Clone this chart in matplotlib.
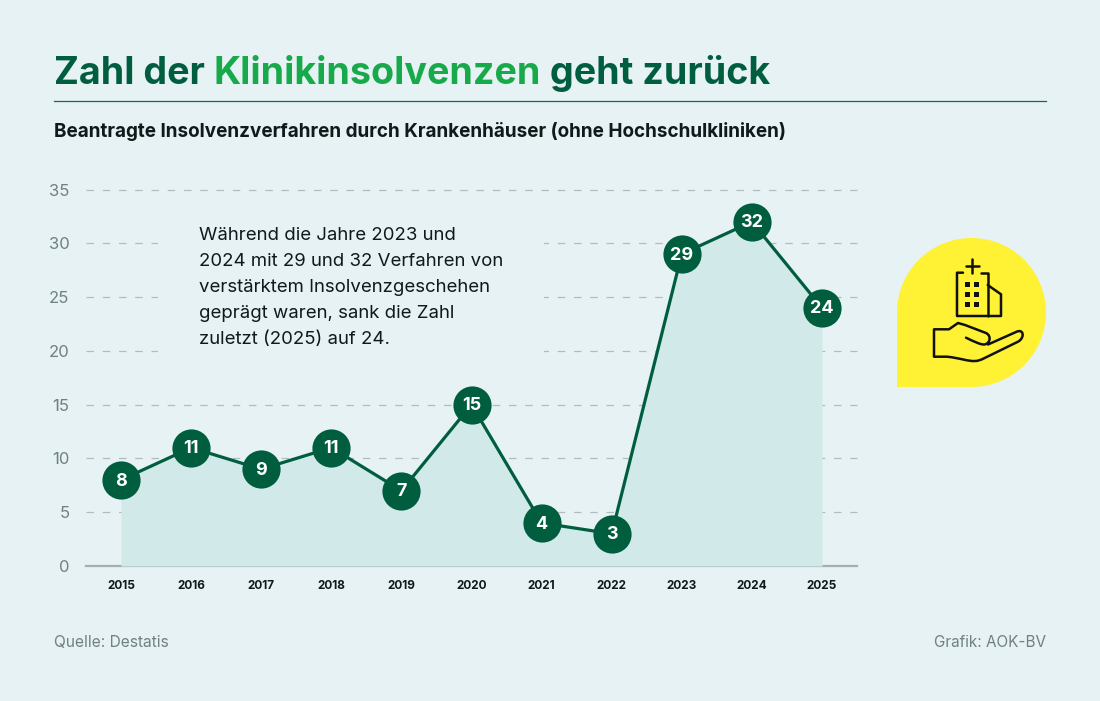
import matplotlib
matplotlib.use("Agg")
import matplotlib.pyplot as plt
from matplotlib.patches import Circle, Rectangle, PathPatch
from matplotlib.path import Path

years = [2015, 2016, 2017, 2018, 2019, 2020, 2021, 2022, 2023, 2024, 2025]
cases = [8, 11, 9, 11, 7, 15, 4, 3, 29, 32, 24]
y_ticks = [0, 5, 10, 15, 20, 25, 30, 35]

title_parts = [("Zahl der ", "#005E3F"), ("Klinikinsolvenzen", "#18A94A"), (" geht zurück", "#005E3F")]
subtitle = "Beantragte Insolvenzverfahren durch Krankenhäuser (ohne Hochschulkliniken)"
note_lines = [
    "Während die Jahre 2023 und",
    "2024 mit 29 und 32 Verfahren von",
    "verstärktem Insolvenzgeschehen",
    "geprägt waren, sank die Zahl",
    "zuletzt (2025) auf 24.",
]

BG = "#E6F2F3"
AREA = "#D2E9EA"
DARK = "#005E3F"
YELLOW = "#FFF133"
GREY = "#6F8183"
INK = "#111A1A"
W, H = 1100, 701

plt.rcParams["font.family"] = ["Inter", "DejaVu Sans"]
fig = plt.figure(figsize=(W / 100, H / 100), dpi=100, facecolor=BG)

# chart area, placed in pixels
ax = fig.add_axes([86 / W, 1 - 566 / H, (857 - 86) / W, (566 - 189.5) / H])
ax.set_facecolor("none")
ax.set_xlim(2014.5, 2025.5)
ax.set_ylim(0, 35)
for s in ax.spines.values():
    s.set_visible(False)
ax.set_yticks(y_ticks)
ax.set_xticks(years)
ax.tick_params(length=0)
ax.tick_params(axis="y", pad=12, labelsize=12, labelcolor=GREY)
ax.tick_params(axis="x", pad=10, labelsize=8.5, labelcolor=INK)
for lab in ax.get_xticklabels():
    lab.set_fontweight("bold")

for t in y_ticks[1:]:
    ax.plot([2014.5, 2025.5], [t, t], color="#B0BDBD", lw=0.9, dashes=(6, 7), zorder=1, clip_on=False)
ax.plot([2014.5, 2025.5], [0, 0], color="#A2B0B0", lw=1.6, zorder=1, clip_on=False)

# gap in the grid behind the note
ax.add_patch(Rectangle((2015.53, 19.2), 5.5, 12.5, facecolor=BG, edgecolor="none", zorder=2))
ax.fill_between(years, cases, 0, color=AREA, lw=0, zorder=3)
ax.plot(years, cases, color=DARK, lw=2.3, zorder=4, solid_joinstyle="round")
ax.plot(years, cases, "o", ms=27.5, mfc=DARK, mec="none", zorder=5)
for x, v in zip(years, cases):
    ax.text(x, v - 0.1, str(v), color="white", fontsize=13, fontweight="bold", ha="center", va="center", zorder=6)

# overlay in pixel coordinates for headline, note and icon
ov = fig.add_axes([0, 0, 1, 1])
ov.set_xlim(0, W)
ov.set_ylim(H, 0)
ov.axis("off")
ov.patch.set_alpha(0)

renderer = fig.canvas.get_renderer()
x = 54
for part, col in title_parts:
    ov.text(x, 84, part, color=col, fontsize=27.1, fontweight="bold", va="baseline")
    probe = ov.text(0, 0, part + "|", fontsize=27.1, fontweight="bold")
    bar = ov.text(0, 0, "|", fontsize=27.1, fontweight="bold")
    x += probe.get_window_extent(renderer).width - bar.get_window_extent(renderer).width
    probe.remove()
    bar.remove()

ov.plot([54, 1046], [101, 101], color="#17694E", lw=0.9)
ov.text(54, 137, subtitle, color=INK, fontsize=13.6, fontweight="bold", va="baseline")
for i, line in enumerate(note_lines):
    ov.text(199, 240 + i * 26, line, color=INK, fontsize=13.4, va="baseline")
ov.text(54, 647, "Quelle: Destatis", color=GREY, fontsize=11.2, va="baseline")
ov.text(1046, 647, "Grafik: AOK-BV", color=GREY, fontsize=11, ha="right", va="baseline")

# yellow drop with hospital and hand
ov.add_patch(Circle((971.5, 312.5), 74.5, facecolor=YELLOW, edgecolor="none"))
ov.add_patch(Rectangle((897, 312.5), 74.5, 74.5, facecolor=YELLOW, edgecolor="none"))

def stroke(verts, codes=None):
    path = Path(verts, codes) if codes else Path(verts)
    ov.add_patch(PathPatch(path, facecolor="none", edgecolor="#111111", lw=1.8, capstyle="round", joinstyle="round"))

stroke([(963, 272.7), (957, 272.7), (957, 316), (1001, 316), (1001, 294.3), (987.7, 285)])
stroke([(981, 272.7), (987.7, 272.7), (987.7, 316)])
stroke([(965.6, 266), (979, 266)])
stroke([(972.3, 259.3), (972.3, 272.7)])
for wy in (284, 294, 304):
    for wx in (967.7, 976.7):
        ov.add_patch(Rectangle((wx - 2.5, wy - 2.5), 5, 5, facecolor="#111111", edgecolor="none"))

C4 = Path.CURVE4
L = Path.LINETO
M = Path.MOVETO
stroke([(966, 337.7), (975, 342), (980, 344.5), (984, 344.5),
        (990, 344), (992, 336), (986, 333), (965, 325), (958, 323), (949, 329.3),
        (934, 329.3), (934, 356.7), (947, 356.7),
        (960, 358), (968, 361.5), (975, 361), (978, 361), (980, 360), (982, 359.3), (1018, 341.7),
        (1025, 338), (1024, 328), (1016, 332), (988, 344.5)],
       [M, C4, C4, C4, C4, C4, C4, L, L, L, L, L, L, C4, C4, C4, C4, C4, C4, L, C4, C4, C4, L])

fig.savefig("out.png", dpi=100, facecolor=BG)
